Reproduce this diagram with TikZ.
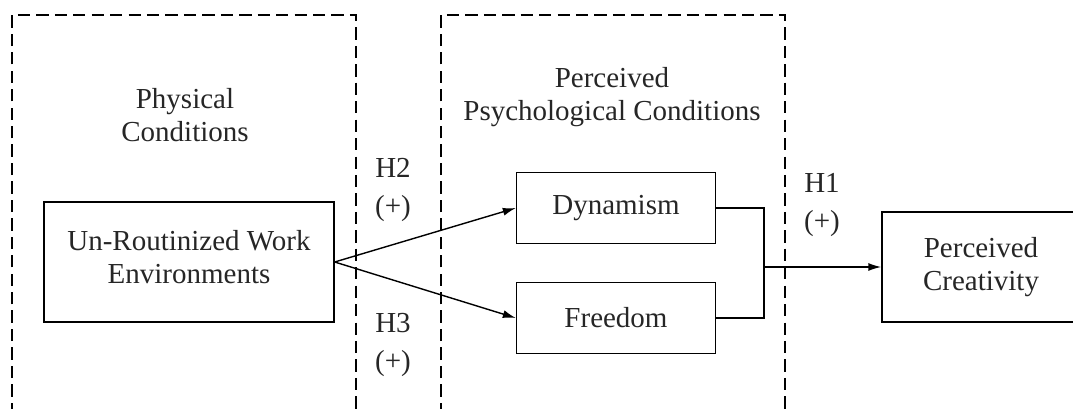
\documentclass[tikz,border=0pt]{standalone}
\usepackage{fontspec}
\setmainfont{Liberation Serif}
\usetikzlibrary{positioning,arrows.meta}

\begin{document}
\begin{tikzpicture}[x=0.02cm,y=-0.02cm,
  every node/.style={font=\fontsize{16.5}{18.5}\selectfont,text=black!85},
  box/.style={draw,line width=0.8pt,align=center},
  frame/.style={line width=0.8pt,dash pattern=on 7pt off 3.5pt},
  hyp/.style={align=center,font=\fontsize{16.5}{22}\selectfont},
  link/.style={line width=0.8pt,-{Latex[length=2.6mm,width=1.6mm]}}]
\useasboundingbox (0,0) rectangle (1073,409);
\draw[frame] (12,415) -- (12,15) -- (356,15) -- (356,415);
\draw[frame] (441,415) -- (441,15) -- (785,15) -- (785,415);
\node[align=center] (phys) at (185,115) {Physical\\Conditions};
\node[align=center] (psych) at (612,97) {Perceived\\Psychological Conditions};
\node[box,minimum width=5.8cm,minimum height=2.4cm] (env) at (189,262) {Un-Routinized Work\\Environments\\[-13pt]};
\node[box,minimum width=3.98cm,minimum height=1.42cm] (dyn) at (616,208) {Dynamism};
\node[box,minimum width=3.98cm,minimum height=1.42cm] (free) at (616,318) {Freedom};
\node[box,minimum width=3.96cm,minimum height=2.2cm] (crea) at (981,267) {Perceived\\Creativity};
\coordinate (join) at (764,267);
\draw[link] (env.east) -- (dyn.west);
\draw[link] (env.east) -- (free.west);
\draw[line width=0.8pt] (dyn.east) -| (join) |- (free.east);
\draw[link] (join) -- (crea.west);
\node[hyp] (h2) at (393,190) {H2\\(+)};
\node[hyp] (h3) at (393,345) {H3\\(+)};
\node[hyp] (h1) at (822,205) {H1\\(+)};
\end{tikzpicture}
\end{document}
